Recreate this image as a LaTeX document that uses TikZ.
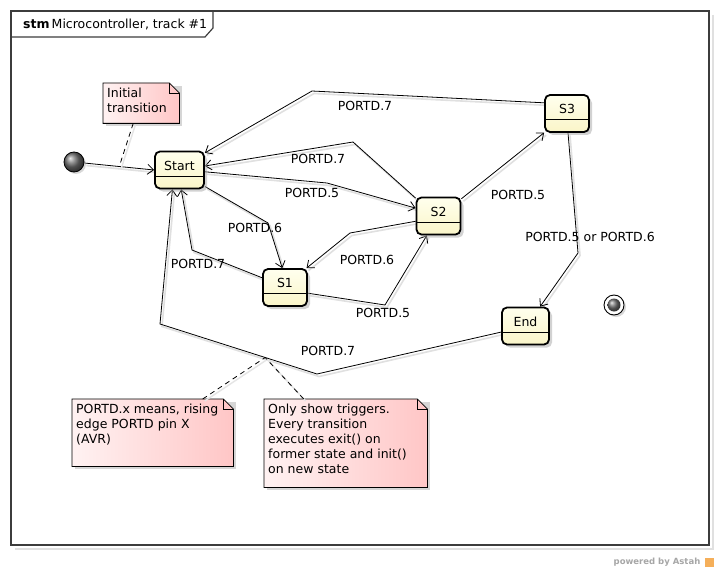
\documentclass[tikz,border=0pt]{standalone}
\usepackage{fontspec}
\setmainfont{DejaVu Sans}
\usetikzlibrary{arrows.meta,shadows}
\pgfdeclarelayer{bgl}
\pgfdeclarelayer{edgel}
\pgfsetlayers{bgl,edgel,main}
\definecolor{framecol}{RGB}{60,60,60}
\definecolor{sttop}{RGB}{255,255,238}
\definecolor{stbot}{RGB}{250,245,200}
\definecolor{notel}{RGB}{255,242,242}
\definecolor{noter}{RGB}{255,198,198}
\definecolor{astahorange}{RGB}{245,175,90}
\newcommand\notetxt[3]{\parbox[c][#2][t]{#1}{\strut#3}}
\newcommand\mynoteshape[1]{%
  \fill[black!16] ([shift={(3pt,-3pt)}]#1.south west) -- ([shift={(3pt,-3pt)}]#1.north west) -- ([shift={(3pt,-3pt)}]#1.north east) -- ([shift={(3pt,-3pt)}]#1.south east) -- cycle;
  \shadedraw[left color=notel, right color=noter, draw=black, line width=0.8pt] (#1.south west) -- (#1.north west) -- ([xshift=-10pt]#1.north east) -- ([yshift=-10pt]#1.north east) -- (#1.south east) -- cycle;
  \draw[line width=0.8pt] ([xshift=-10pt]#1.north east) -- ([xshift=-10pt,yshift=-10pt]#1.north east) -- ([yshift=-10pt]#1.north east);
}
\begin{document}
\begin{tikzpicture}[x=1pt,y=-1pt, font=\fontsize{12.5}{15}\selectfont,
  statebox/.style={draw=black, line width=1.8pt, rounded corners=5pt, top color=sttop, bottom color=stbot,
    text height=0pt, text depth=0pt, inner sep=0pt, minimum height=37pt, minimum width=44pt,
    drop shadow={shadow xshift=3pt, shadow yshift=-3pt, fill=black!35, opacity=0.5}},
  sepline/.style={line width=1pt},
  conn/.style={draw=black, line width=0.8pt, -{Straight Barb[length=6pt,width=10pt]},
    preaction={draw=black!12, line width=1.6pt, arrows=-, transform canvas={xshift=2pt,yshift=-2.5pt}}},
  notelink/.style={draw=black, line width=0.8pt, dash pattern=on 5pt off 4pt,
    preaction={draw=black!10, line width=1.4pt, transform canvas={xshift=2pt,yshift=-2pt}}},
  lbl/.style={inner sep=0pt},
  notetext/.style={inner xsep=4pt, inner ysep=4pt, anchor=north west},
  pseudo/.style={circle, inner sep=0pt, minimum size=20pt}
]
\useasboundingbox (0,0) rectangle (719,572);
\begin{pgfonlayer}{bgl}
\fill[white] (0,0) rectangle (719,572);
\end{pgfonlayer}

% frame
\draw[black!12, line width=2pt] (713,15) -- (713,549) -- (15,549);
\draw[framecol, line width=1.3pt] (11,11) rectangle (709,545);
\draw[framecol, line width=1.2pt] (11,37) -- (205,37) -- (213,28) -- (213,11);
\node[anchor=base west, inner sep=0pt] (title) at (23,29) {\textbf{stm}\,Microcontroller, track \#1};

% states
\node[statebox, minimum width=49pt] (start) at (179.5,170) {Start};
\node[statebox] (s3) at (567,113.5) {S3};
\node[statebox] (s2) at (438.5,216) {S2};
\node[statebox] (s1) at (285,287.5) {S1};
\node[statebox, minimum width=47pt] (endst) at (525.5,326) {End};
\foreach \n in {start,s3,s2,s1,endst}
  \draw[sepline] ([yshift=-6pt]\n.west) -- ([yshift=-6pt]\n.east);

% pseudostates
\node[pseudo, draw=black, line width=0.8pt, ball color=black!55,
  drop shadow={shadow xshift=2pt, shadow yshift=-2pt, fill=black!30, opacity=0.5}] (init) at (74,162) {};
\node[pseudo, draw=black, line width=0.9pt, fill=white,
  drop shadow={shadow xshift=2pt, shadow yshift=-2pt, fill=black!30, opacity=0.5}] (final) at (614,305) {};
\node[pseudo, minimum size=13pt, ball color=black!55] (finalcore) at (final.center) {};

% notes
\node[notetext] (n1) at (103,83) {\notetxt{68pt}{32pt}{Initial\\transition}};
\node[notetext] (n2) at (72,399) {\notetxt{153pt}{59pt}{PORTD.x means, rising\\edge PORTD pin X\\(AVR)}};
\node[notetext] (n3) at (264,399) {\notetxt{155pt}{80pt}{Only show triggers.\\Every transition\\executes exit() on\\former state and init()\\on new state}};
\begin{pgfonlayer}{bgl}
\mynoteshape{n1}
\mynoteshape{n2}
\mynoteshape{n3}
\end{pgfonlayer}

% bend points
\coordinate (b2) at (312,91);
\coordinate (b3) at (353,142);
\coordinate (b4) at (327,183);
\coordinate (b5) at (268,223);
\coordinate (b6) at (192,250);
\coordinate (b7) at (350,233);
\coordinate (b8) at (385,305);
\coordinate (b10) at (578,253);
\coordinate (b11a) at (317,374);
\coordinate (b11b) at (160,324);

\begin{pgfonlayer}{edgel}
\draw[conn] (init) -- coordinate[pos=0.5] (it1) (start.west);
\draw[conn] (s3.155) -- (b2) -- (start.34);
\draw[conn] (s2.142) -- (b3) -- (start.9);
\draw[conn] (start.-4) -- (b4) -- (s2.161);
\draw[conn] (start.-33) -- (b5) -- (s1.98);
\draw[conn] (s1.157) -- (b6) -- (start.-85);
\draw[conn] (s2.193) -- (b7) -- (s1.42);
\draw[conn] (s1.-14) -- (b8) -- (s2.-121);
\draw[conn] (s2.37) -- (s3.220);
\draw[conn] (s3.-87) -- (b10) -- (endst.53);
\draw[conn] (endst.194) -- (b11a) -- coordinate[pos=0.33] (nj) (b11b) -- (start.-110);
\draw[notelink] ([xshift=-8pt]n1.south) -- (it1);
\draw[notelink] ([xshift=50pt]n2.north) -- (nj);
\draw[notelink] ([xshift=-42pt]n3.north) -- (nj);
\end{pgfonlayer}

% labels
\node[lbl] (l1) at (365,106) {PORTD.7};
\node[lbl] (l2) at (318,159) {PORTD.7};
\node[lbl] (l3) at (312,193) {PORTD.5};
\node[lbl] (l4) at (255,228) {PORTD.6};
\node[lbl] (l5) at (198,264) {PORTD.7};
\node[lbl] (l6) at (367,260) {PORTD.6};
\node[lbl] (l7) at (383,313) {PORTD.5};
\node[lbl] (l8) at (518,195) {PORTD.5};
\node[lbl] (l9) at (590,237) {PORTD.5 or PORTD.6};
\node[lbl] (l10) at (328,351) {PORTD.7};

% watermark
\node[inner sep=0pt, text=black!35, font=\bfseries\fontsize{8.5}{10}\selectfont] (wm) at (657,562) {powered by Astah};
\node[fill=astahorange, minimum size=9pt, inner sep=0pt] (wmicon) at (709,562) {};
\end{tikzpicture}
\end{document}
